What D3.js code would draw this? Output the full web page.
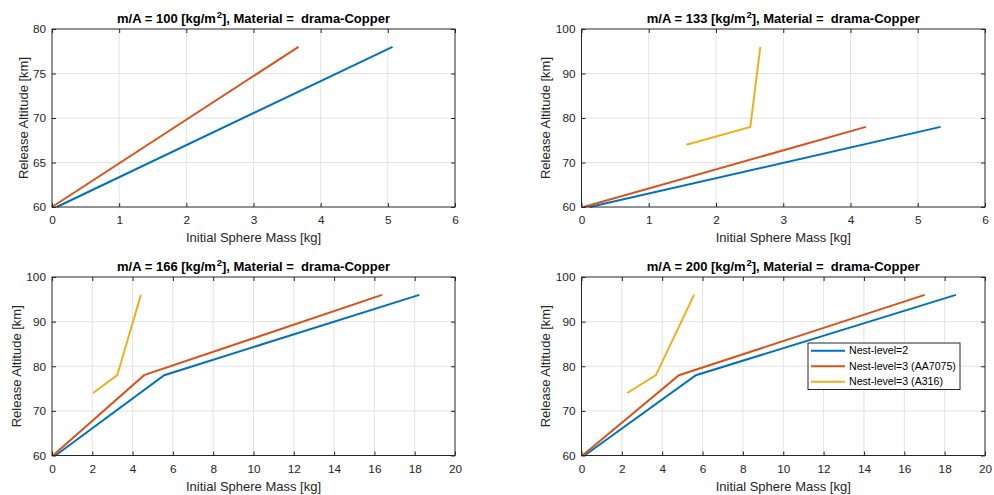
<!DOCTYPE html>
<html>
<head>
<meta charset="utf-8">
<script src="https://cdn.jsdelivr.net/npm/d3@7"></script>
<style>
  html, body { margin: 0; padding: 0; background: #ffffff; }
  svg { display: block; font-family: "Liberation Sans", Arial, Helvetica, sans-serif; }
</style>
</head>
<body>
<svg id="chart" width="994" height="495"></svg>
<script>
// ---------------- DATA ----------------
const panelMA = [100, 133, 166, 200];
const material = "drama-Copper";
const seriesNames = ["Nest-level=2", "Nest-level=3 (AA7075)", "Nest-level=3 (A316)"];
const seriesColors = ["#0072BD", "#D95319", "#EDB120"];

// m/A = 100
const p100_nl2_mass = [0.07, 5.07];
const p100_nl2_alt  = [60, 78];
const p100_aa_mass  = [0.0, 3.67];
const p100_aa_alt   = [60, 78];

// m/A = 133
const p133_nl2_mass  = [0.12, 5.34];
const p133_nl2_alt   = [60, 78];
const p133_aa_mass   = [0.03, 4.23];
const p133_aa_alt    = [60, 78];
const p133_a316_mass = [1.56, 2.51, 2.66];
const p133_a316_alt  = [74, 78, 96];

// m/A = 166
const p166_nl2_mass  = [0.17, 5.57, 18.23];
const p166_nl2_alt   = [60, 78, 96];
const p166_aa_mass   = [0.05, 4.57, 16.38];
const p166_aa_alt    = [60, 78, 96];
const p166_a316_mass = [2.04, 3.24, 4.41];
const p166_a316_alt  = [74, 78, 96];

// m/A = 200
const p200_nl2_mass  = [0.15, 5.67, 18.56];
const p200_nl2_alt   = [60, 78, 96];
const p200_aa_mass   = [0.05, 4.83, 17.01];
const p200_aa_alt    = [60, 78, 96];
const p200_a316_mass = [2.27, 3.69, 5.58];
const p200_a316_alt  = [74, 78, 96];

// tick labels
const xTicksSmall = [0, 1, 2, 3, 4, 5, 6];
const xTicksLarge = [0, 2, 4, 6, 8, 10, 12, 14, 16, 18, 20];
const yTicks100   = [60, 65, 70, 75, 80];
const yTicksOther = [60, 70, 80, 90, 100];

const xLabel = "Initial Sphere Mass [kg]";
const yLabel = "Release Altitude [km]";

// ---------------- LAYOUT ----------------
const panels = [
  { ma: panelMA[0], box: [52, 29, 455, 207], xDom: [0, 6], yDom: [60, 80], xt: xTicksSmall, yt: yTicks100, ylOff: 24.5,
    series: [[p100_nl2_mass, p100_nl2_alt], [p100_aa_mass, p100_aa_alt]] },
  { ma: panelMA[1], box: [581.5, 29, 985, 207], xDom: [0, 6], yDom: [60, 100], xt: xTicksSmall, yt: yTicksOther, ylOff: 31.5,
    series: [[p133_nl2_mass, p133_nl2_alt], [p133_aa_mass, p133_aa_alt], [p133_a316_mass, p133_a316_alt]] },
  { ma: panelMA[2], box: [52, 277, 455, 455.5], xDom: [0, 20], yDom: [60, 100], xt: xTicksLarge, yt: yTicksOther, ylOff: 31.5,
    series: [[p166_nl2_mass, p166_nl2_alt], [p166_aa_mass, p166_aa_alt], [p166_a316_mass, p166_a316_alt]] },
  { ma: panelMA[3], box: [581.5, 277, 985, 455.5], xDom: [0, 20], yDom: [60, 100], xt: xTicksLarge, yt: yTicksOther, ylOff: 31.5,
    series: [[p200_nl2_mass, p200_nl2_alt], [p200_aa_mass, p200_aa_alt], [p200_a316_mass, p200_a316_alt]], legend: true }
];

const svg = d3.select("#chart");
const axisColor = "#262626";
const gridColor = "#e3e3e3";
const tickLen = 4;

panels.forEach(p => {
  const [x0, y0, x1, y1] = p.box;
  const x = d3.scaleLinear().domain(p.xDom).range([x0, x1]);
  const y = d3.scaleLinear().domain(p.yDom).range([y1, y0]);
  const g = svg.append("g");

  // grid
  g.append("g").selectAll("line.gx").data(p.xt.slice(1, -1)).join("line")
    .attr("x1", d => x(d)).attr("x2", d => x(d)).attr("y1", y0).attr("y2", y1)
    .attr("stroke", gridColor).attr("stroke-width", 1);
  g.append("g").selectAll("line.gy").data(p.yt.slice(1, -1)).join("line")
    .attr("x1", x0).attr("x2", x1).attr("y1", d => y(d)).attr("y2", d => y(d))
    .attr("stroke", gridColor).attr("stroke-width", 1);

  // data lines
  const line = d3.line().x(d => x(d[0])).y(d => y(d[1]));
  p.series.forEach((s, i) => {
    const pts = s[0].map((m, k) => [m, s[1][k]]);
    g.append("path").datum(pts).attr("d", line)
      .attr("fill", "none").attr("stroke", seriesColors[i])
      .attr("stroke-width", 2).attr("stroke-linejoin", "miter");
  });

  // axes (inward ticks on all four sides)
  const fmt = d3.format("d");
  const bottom = g.append("g").attr("transform", `translate(0,${y1})`)
    .call(d3.axisBottom(x).tickValues(p.xt).tickFormat(fmt).tickSizeInner(-tickLen).tickSizeOuter(0).tickPadding(9));
  const left = g.append("g").attr("transform", `translate(${x0},0)`)
    .call(d3.axisLeft(y).tickValues(p.yt).tickFormat(fmt).tickSizeInner(-tickLen).tickSizeOuter(0).tickPadding(6));
  const top = g.append("g").attr("transform", `translate(0,${y0})`)
    .call(d3.axisTop(x).tickValues(p.xt).tickFormat("").tickSizeInner(-tickLen).tickSizeOuter(0));
  const right = g.append("g").attr("transform", `translate(${x1},0)`)
    .call(d3.axisRight(y).tickValues(p.yt).tickFormat("").tickSizeInner(-tickLen).tickSizeOuter(0));
  [bottom, left, top, right].forEach(a => {
    a.select(".domain").remove();
    a.selectAll(".tick line").attr("stroke", axisColor).attr("stroke-width", 1);
    a.selectAll(".tick text").attr("fill", axisColor).style("font-size", "11.8px")
      .style("font-family", "'Liberation Sans', Arial, sans-serif");
  });

  // box
  g.append("rect").attr("x", x0).attr("y", y0).attr("width", x1 - x0).attr("height", y1 - y0)
    .attr("fill", "none").attr("stroke", axisColor).attr("stroke-width", 1);

  // axis labels
  g.append("text").attr("x", (x0 + x1) / 2).attr("y", y1 + 35)
    .attr("text-anchor", "middle").attr("fill", axisColor).style("font-size", "13px").text(xLabel);
  g.append("text").attr("transform", `translate(${x0 - p.ylOff},${(y0 + y1) / 2}) rotate(-90)`)
    .attr("text-anchor", "middle").attr("fill", axisColor).style("font-size", "13px").text(yLabel);

  // title with superscript
  const t = g.append("text").attr("x", (x0 + x1) / 2).attr("y", y0 - 6.5)
    .attr("text-anchor", "middle").attr("fill", "#000").style("font-size", "13px").style("font-weight", "bold");
  t.append("tspan").text(`m/A = ${p.ma} [kg/m`);
  t.append("tspan").attr("dy", -5).style("font-size", "9.5px").text("\u200A2");
  t.append("tspan").attr("dy", 5).text("], Material =\u00A0 " + material);

  // legend
  if (p.legend) {
    const lx = 808, ly = 343, lw = 152, lh = 46.5;
    const lg = g.append("g");
    lg.append("rect").attr("x", lx).attr("y", ly).attr("width", lw).attr("height", lh)
      .attr("fill", "#fff").attr("stroke", axisColor).attr("stroke-width", 1);
    const rowY = [350.7, 366.2, 381.7];
    seriesNames.forEach((n, i) => {
      lg.append("line").attr("x1", 811).attr("x2", 845).attr("y1", rowY[i]).attr("y2", rowY[i])
        .attr("stroke", seriesColors[i]).attr("stroke-width", 2);
      lg.append("text").attr("x", 849).attr("y", rowY[i]).attr("dy", "0.35em")
        .attr("fill", "#000").style("font-size", "10.6px").text(n);
    });
  }
});
</script>
</body>
</html>
